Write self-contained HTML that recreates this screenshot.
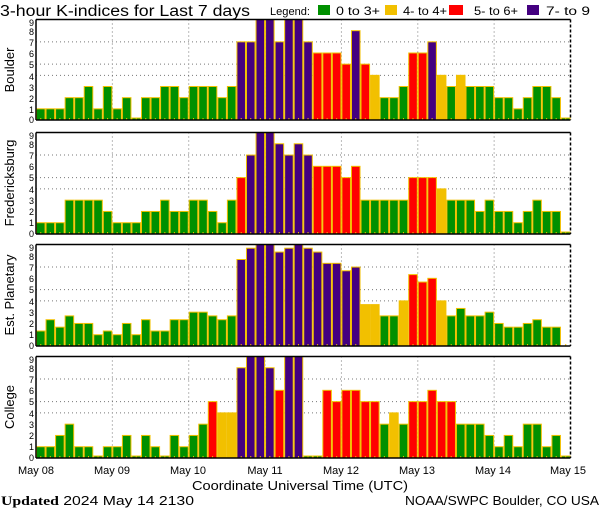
<!DOCTYPE html>
<html><head><meta charset="utf-8"><style>
html,body{margin:0;padding:0;background:#fff;}
svg{display:block;font-family:"Liberation Sans",sans-serif;}
</style></head><body>
<svg id="s" width="600" height="510" xmlns="http://www.w3.org/2000/svg">
<rect width="600" height="510" fill="#fff"/>
<text x="0" y="16" font-size="15.5" fill="#000" textLength="250" lengthAdjust="spacingAndGlyphs">3-hour K-indices for Last 7 days</text>
<text x="270" y="15" font-size="11" textLength="40" lengthAdjust="spacingAndGlyphs">Legend:</text>
<rect x="318" y="5" width="12" height="10" fill="#009000"/>
<text x="336" y="15" font-size="11.5" textLength="44" lengthAdjust="spacingAndGlyphs">0 to 3+</text>
<rect x="385" y="5" width="12" height="10" fill="#f2c000"/>
<text x="403" y="15" font-size="11.5" textLength="44" lengthAdjust="spacingAndGlyphs">4- to 4+</text>
<rect x="449" y="5" width="14" height="10" fill="#ff0000"/>
<text x="474" y="15" font-size="11.5" textLength="44" lengthAdjust="spacingAndGlyphs">5- to 6+</text>
<rect x="527" y="5" width="12" height="10" fill="#440080"/>
<text x="546" y="15" font-size="11.5" textLength="44" lengthAdjust="spacingAndGlyphs">7- to 9</text>
<g id="bars"></g>
<g font-size="9" text-anchor="end" id="ylab">
<text x="34" y="26">9</text><text x="34" y="35">8</text><text x="34" y="46">7</text><text x="34" y="57">6</text><text x="34" y="68">5</text><text x="34" y="80">4</text><text x="34" y="91">3</text><text x="34" y="102">2</text><text x="34" y="113">1</text><text x="34" y="123">0</text>
<text x="34" y="139">9</text><text x="34" y="148">8</text><text x="34" y="159">7</text><text x="34" y="170">6</text><text x="34" y="181">5</text><text x="34" y="193">4</text><text x="34" y="204">3</text><text x="34" y="215">2</text><text x="34" y="226">1</text><text x="34" y="237">0</text>
<text x="34" y="251">9</text><text x="34" y="260">8</text><text x="34" y="271">7</text><text x="34" y="282">6</text><text x="34" y="293">5</text><text x="34" y="305">4</text><text x="34" y="316">3</text><text x="34" y="327">2</text><text x="34" y="338">1</text><text x="34" y="349">0</text>
<text x="34" y="363">9</text><text x="34" y="372">8</text><text x="34" y="383">7</text><text x="34" y="394">6</text><text x="34" y="405">5</text><text x="34" y="417">4</text><text x="34" y="428">3</text><text x="34" y="439">2</text><text x="34" y="450">1</text><text x="34" y="461">0</text>
</g>
<g font-size="13" text-anchor="middle">
<text transform="translate(14,70) rotate(-90)">Boulder</text>
<text transform="translate(14,183) rotate(-90)">Fredericksburg</text>
<text transform="translate(14,295) rotate(-90)">Est. Planetary</text>
<text transform="translate(14,407) rotate(-90)">College</text>
</g>
<g font-size="11" text-anchor="middle">
<text x="36" y="474">May 08</text><text x="112" y="474">May 09</text><text x="188" y="474">May 10</text><text x="265" y="474">May 11</text><text x="341" y="474">May 12</text><text x="417" y="474">May 13</text><text x="493" y="474">May 14</text><text x="568" y="474">May 15</text>
</g>
<text x="300" y="490" font-size="12.5" text-anchor="middle" textLength="216" lengthAdjust="spacingAndGlyphs">Coordinate Universal Time (UTC)</text>
<text x="1" y="505" font-size="13" textLength="193" lengthAdjust="spacingAndGlyphs"><tspan font-family="Liberation Serif" font-weight="bold">Updated</tspan> 2024 May 14 2130</text>
<text x="405" y="505" font-size="12.5" textLength="194" lengthAdjust="spacingAndGlyphs">NOAA/SWPC Boulder, CO USA</text>
</svg>
<script>
var P=[[19.5,120,[1,1,1,2,2,3,1,3,1,2,0,2,2,3,3,2,3,3,3,2,3,7,7,9,9,7,9,9,7,6,6,6,5,8,5,4,2,2,3,6,6,7,4,3,4,3,3,3,2,2,1,2,3,3,2,0]],
[132.5,234,[1,1,1,3,3,3,3,2,1,1,1,2,2,3,2,2,3,3,2,1,3,5,7,9,9,8,7,8,7,6,6,6,5,6,3,3,3,3,3,5,5,5,4,3,3,3,2,3,2,2,1,2,3,2,2,0]],
[244.5,346,[1.33,2.33,1.67,2.67,2,2,1,1.33,1,2,1,2.33,1.33,1.33,2.33,2.33,3,3,2.67,2.33,2.67,7.67,8.67,9,9,8.33,8.67,9,8.67,8.33,7.33,7.33,6.67,7,3.67,3.67,2.67,2.67,4,6.33,5.67,6,4,2.67,3.33,2.67,2.67,3,2,1.67,1.67,2,2.33,1.67,1.67,null]],
[356.5,458,[1,1,2,3,1,1,0,1,1,2,0,2,1,0,2,1,2,3,5,4,4,8,9,9,8,6,9,9,0,0,6,5,6,6,5,5,3,4,3,5,5,6,5,5,3,3,3,2,1,2,1,3,3,1,2,0]]];
var x0=36,x1=570.5,w=(x1-x0)/56,h='';
function col(v){return v>=6.6?'#440080':v>=4.6?'#ff0000':v>=3.6?'#f2c000':'#009000';}
P.forEach(function(p){var t=p[0],b=p[1],u=(b-t)/9;
 [4,5,7].forEach(function(k){h+='<line x1="'+x0+'" x2="'+x1+'" y1="'+(b-k*u)+'" y2="'+(b-k*u)+'" stroke="#777" stroke-width="1" stroke-dasharray="1,3"/>';});
 for(var d=1;d<7;d++){var xx=x0+d*8*w;h+='<line x1="'+xx+'" x2="'+xx+'" y1="'+t+'" y2="'+b+'" stroke="#777" stroke-width="1" stroke-dasharray="1,3"/>';}
 p[2].forEach(function(v,i){var xl=x0+i*w;if(v!==null){var hh=Math.max(v*u,2);
  h+='<rect x="'+(xl+0.5)+'" y="'+(b-hh)+'" width="'+(w-1)+'" height="'+hh+'" fill="'+col(v)+'" stroke="#f2c000" stroke-width="1"/>';}
  h+='<line x1="'+(xl+w/2)+'" x2="'+(xl+w/2)+'" y1="'+(b-2)+'" y2="'+b+'" stroke="#f2c000" stroke-width="1"/>';});
 h+='<line x1="'+x0+'" x2="'+x1+'" y1="'+t+'" y2="'+t+'" stroke="#000" stroke-width="1.5"/>';
 h+='<line x1="'+x0+'" x2="'+x1+'" y1="'+b+'" y2="'+b+'" stroke="#000" stroke-width="1.5"/>';
 h+='<line x1="'+x0+'" x2="'+x0+'" y1="'+t+'" y2="'+b+'" stroke="#000" stroke-width="1.5"/>';
 h+='<line x1="'+x1+'" x2="'+x1+'" y1="'+t+'" y2="'+b+'" stroke="#000" stroke-width="1.5" stroke-dasharray="3,2"/>';
});
document.getElementById('bars').innerHTML=h;
</script>
</body></html>
